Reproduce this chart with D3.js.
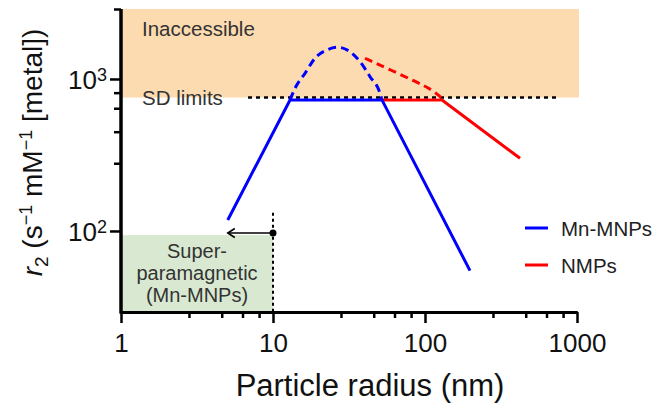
<!DOCTYPE html>
<html><head><meta charset="utf-8">
<script src="https://cdn.jsdelivr.net/npm/d3@7"></script>
<style>html,body{margin:0;padding:0;background:#fff;} svg{display:block;font-family:"Liberation Sans",Arial,Helvetica,sans-serif;}</style>
</head><body><svg id="chart" width="655" height="404"></svg>
<script>
// ---- data ----
const xTickValues = [1, 10, 100, 1000];
const xTickLabels = ["1", "10", "100", "1000"];
const xMinorTicks = [2.8, 4.6, 6.3, 8.1, 28, 46, 63, 81, 280, 460, 630, 810];
const yTickValues = [100, 1000];
const yTickExponents = ["2", "3"];
const yMinorTicks = [279, 450, 642, 813, 2887];

const mnSolidX = [5.04, 12.94, 52.1, 197.7];
const mnSolidY = [118, 728, 728, 54.8];
const mnDashedX = [12.94, 13.96, 16.24, 18.89, 22.56, 26.5, 32.1, 37.4, 43.5, 50.6, 52.1];
const mnDashedY = [728, 869, 1090, 1369, 1551, 1617, 1512, 1300, 1035, 805, 728];
const nmpSolidX = [52.1, 129.4, 421.7];
const nmpSolidY = [728, 728, 301];
const nmpDashedX = [40.3, 58.9, 86.0, 111.2, 130];
const nmpDashedY = [1369, 1150, 966, 853, 742];

const sdLimit = 755;          // r2 of the SD limit
const sdLineX = [6.85, 750];  // extent of the dotted SD line
const inaccessibleX = [1, 1030];
const superparaX = [1, 10];
const superparaTop = 94;
const arrowX = [10, 5.04];
const arrowY = 97;
const dottedVTop = 132;

const seriesNames = ["Mn-MNPs", "NMPs"];
const seriesColors = ["#0000ff", "#ff0000"];

// ---- scales ----
const svg = d3.select("#chart");
const x = d3.scaleLog().domain([1, 1000]).range([121, 577]);
const y = d3.scaleLog().domain([29.3, 2887]).range([312, 9]);
const [yMin, yMax] = y.domain();

// ---- background regions ----
svg.append("rect")
  .attr("x", x(inaccessibleX[0])).attr("y", y(yMax))
  .attr("width", x(inaccessibleX[1]) - x(inaccessibleX[0]))
  .attr("height", y(sdLimit) - y(yMax))
  .attr("fill", "#fddbb0");
svg.append("rect")
  .attr("x", x(superparaX[0])).attr("y", y(superparaTop))
  .attr("width", x(superparaX[1]) - x(superparaX[0]))
  .attr("height", y(yMin) - y(superparaTop))
  .attr("fill", "#d9e9d1");

// SD limit dotted line
svg.append("line")
  .attr("x1", x(sdLineX[0])).attr("x2", x(sdLineX[1]))
  .attr("y1", y(sdLimit)).attr("y2", y(sdLimit))
  .attr("stroke", "#000").attr("stroke-width", 2.5)
  .attr("stroke-dasharray", "4,4");

// vertical dotted line at 10 nm
svg.append("line")
  .attr("x1", x(10)).attr("x2", x(10))
  .attr("y1", y(dottedVTop)).attr("y2", y(yMin))
  .attr("stroke", "#000").attr("stroke-width", 2)
  .attr("stroke-dasharray", "3,3");

// arrow
svg.append("line")
  .attr("x1", x(arrowX[0])).attr("x2", x(arrowX[1]))
  .attr("y1", y(arrowY)).attr("y2", y(arrowY))
  .attr("stroke", "#000").attr("stroke-width", 1.6);
const tipX = x(arrowX[1]), tipY = y(arrowY);
svg.append("path")
  .attr("d", `M${tipX + 7},${tipY - 4.5} L${tipX},${tipY} L${tipX + 7},${tipY + 4.5}`)
  .attr("fill", "none").attr("stroke", "#000").attr("stroke-width", 1.6);
svg.append("circle").attr("cx", x(arrowX[0])).attr("cy", y(arrowY)).attr("r", 3.5).attr("fill", "#000");

// ---- curves ----
const zip = (xs, ys) => xs.map((v, i) => [v, ys[i]]);
const lineLin = d3.line().x(d => x(d[0])).y(d => y(d[1]));
const lineCurve = d3.line().x(d => x(d[0])).y(d => y(d[1])).curve(d3.curveMonotoneX);
const lineSmooth = d3.line().x(d => x(d[0])).y(d => y(d[1])).curve(d3.curveBasis);

svg.append("path").datum(zip(mnDashedX, mnDashedY)).attr("d", lineCurve)
  .attr("fill", "none").attr("stroke", seriesColors[0]).attr("stroke-width", 3).attr("stroke-dasharray", "8,5");
svg.append("path").datum(zip(nmpDashedX, nmpDashedY)).attr("d", lineSmooth)
  .attr("fill", "none").attr("stroke", seriesColors[1]).attr("stroke-width", 3).attr("stroke-dasharray", "8,5");
svg.append("path").datum(zip(nmpSolidX, nmpSolidY)).attr("d", lineLin)
  .attr("fill", "none").attr("stroke", seriesColors[1]).attr("stroke-width", 3);
svg.append("path").datum(zip(mnSolidX, mnSolidY)).attr("d", lineLin)
  .attr("fill", "none").attr("stroke", seriesColors[0]).attr("stroke-width", 3);

// ---- axes ----
const xAxisMinor = d3.axisBottom(x).tickValues(xMinorTicks).tickSize(6).tickSizeOuter(0).tickFormat(() => "");
const xAxis = d3.axisBottom(x).tickValues(xTickValues).tickSize(11).tickSizeOuter(0).tickPadding(10.5)
  .tickFormat((d, i) => xTickLabels[i]);
const gxm = svg.append("g").attr("transform", `translate(0,${y(yMin)})`).call(xAxisMinor);
const gx = svg.append("g").attr("transform", `translate(0,${y(yMin)})`).call(xAxis);
[gx, gxm].forEach(g => {
  g.selectAll(".tick line").attr("stroke", "#000").attr("stroke-width", 2.5);
  g.select(".domain").attr("stroke", "#000").attr("stroke-width", 3);
});
gx.selectAll(".tick text").attr("font-size", 26).attr("fill", "#111")
  .attr("font-family", "'Liberation Sans', Arial, sans-serif");

const yAxisMinor = d3.axisLeft(y).tickValues(yMinorTicks).tickSize(7).tickSizeOuter(0).tickFormat(() => "");
const yAxis = d3.axisLeft(y).tickValues(yTickValues).tickSize(11).tickSizeOuter(0).tickFormat(() => "");
const gym = svg.append("g").attr("transform", `translate(${x(1)},0)`).call(yAxisMinor);
const gy = svg.append("g").attr("transform", `translate(${x(1)},0)`).call(yAxis);
[gy, gym].forEach(g => {
  g.selectAll(".tick line").attr("stroke", "#000").attr("stroke-width", 2.5);
  g.select(".domain").attr("stroke", "#000").attr("stroke-width", 3)
    .attr("d", `M0,${y(yMax)}V${y(yMin) + 1.5}`);
});
yTickValues.forEach((v, i) => {
  const t = svg.append("text").attr("x", 107).attr("y", y(v) + 10.5)
    .attr("text-anchor", "end").attr("fill", "#111");
  t.append("tspan").attr("font-size", 26).text("10");
  t.append("tspan").attr("font-size", 18).attr("dy", -8).text(yTickExponents[i]);
});

// ---- axis titles ----
svg.append("text").attr("x", 370).attr("y", 396).attr("text-anchor", "middle")
  .attr("font-size", 31).attr("fill", "#111").text("Particle radius (nm)");

const yt = svg.append("text").attr("transform", "translate(42,152.5) rotate(-90)")
  .attr("text-anchor", "middle").attr("font-size", 28).attr("fill", "#111");
yt.append("tspan").attr("font-style", "italic").text("r");
yt.append("tspan").attr("font-size", 19).attr("dy", 6).text("2");
yt.append("tspan").attr("dy", -6).text(" (s");
yt.append("tspan").attr("font-size", 18).attr("dy", -10).text("\u22121");
yt.append("tspan").attr("dy", 10).text(" mM");
yt.append("tspan").attr("font-size", 18).attr("dy", -10).text("\u22121");
yt.append("tspan").attr("dy", 10).text(" [metal])");

// ---- annotations ----
svg.append("text").attr("x", 142).attr("y", 36).attr("font-size", 20.5).attr("fill", "#333").text("Inaccessible");
svg.append("text").attr("x", 142).attr("y", 105).attr("font-size", 20.5).attr("fill", "#333").text("SD limits");
const spLines = ["Super-", "paramagnetic", "(Mn-MNPs)"];
spLines.forEach((s, i) => {
  svg.append("text").attr("x", 197).attr("y", 258 + i * 22).attr("text-anchor", "middle")
    .attr("font-size", 20).attr("fill", "#333").text(s);
});

// ---- legend ----
seriesNames.forEach((name, i) => {
  const ly = 228 + i * 37;
  svg.append("line").attr("x1", 525).attr("x2", 548).attr("y1", ly).attr("y2", ly)
    .attr("stroke", seriesColors[i]).attr("stroke-width", 3);
  svg.append("text").attr("x", 561).attr("y", ly + 8).attr("font-size", 20.5).attr("fill", "#222").text(name);
});
</script></body></html>
